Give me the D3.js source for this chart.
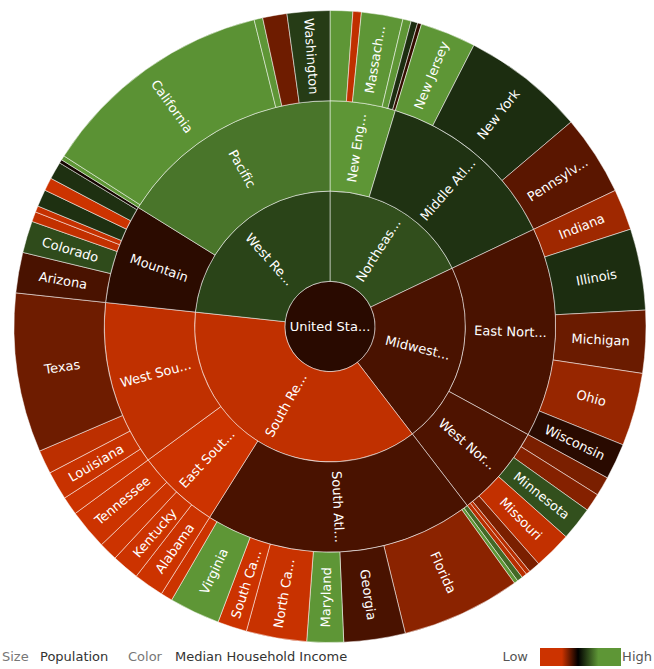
<!DOCTYPE html>
<html>
<head>
<meta charset="utf-8">
<script src="https://cdn.jsdelivr.net/npm/d3@7"></script>
<style>
  body { margin: 0; background: #fff; }
  svg { display: block; font-family: "DejaVu Sans", Verdana, sans-serif; }
  .lbl { font-size: 13px; fill: #fff; }
  .legend text { font-size: 13px; }
</style>
</head>
<body>
<svg id="chart" width="654" height="669"></svg>
<script>
// US population (thousands) by census region, division and state;
// colour is median household income in dollars.
const nationName = "United States";
const nationLabel = "United Sta...";
const nationIncome = 48000;

const regions = ["Northeast Region", "Midwest Region", "South Region", "West Region"];
const regionLabels = ["Northeas...", "Midwest...", "South Re...", "West Re..."];
const regionIncome = [55200, 46400, 40600, 54500];

const divisions = ["New England", "Middle Atlantic", "East North Central", "West North Central",
  "South Atlantic", "East South Central", "West South Central", "Mountain", "Pacific"];
const divisionLabels = ["New Eng...", "Middle Atl...", "East Nort...", "West Nor...",
  "South Atl...", "East Sout...", "West Sou...", "Mountain", "Pacific"];
const divisionRegion = [0, 0, 1, 1, 2, 2, 2, 3, 3];
const divisionIncome = [61000, 53300, 46400, 46200, 46400, 39800, 40600, 47900, 57800];

const states = [
  "Connecticut", "Maine", "Massachusetts", "New Hampshire", "Rhode Island", "Vermont",
  "New Jersey", "New York", "Pennsylvania",
  "Indiana", "Illinois", "Michigan", "Ohio", "Wisconsin",
  "Iowa", "Kansas", "Minnesota", "Missouri", "Nebraska", "North Dakota", "South Dakota",
  "Delaware", "District of Columbia", "Florida", "Georgia", "Maryland", "North Carolina",
  "South Carolina", "Virginia", "West Virginia",
  "Alabama", "Kentucky", "Mississippi", "Tennessee",
  "Arkansas", "Louisiana", "Oklahoma", "Texas",
  "Arizona", "Colorado", "Idaho", "Montana", "Nevada", "New Mexico", "Utah", "Wyoming",
  "Alaska", "California", "Hawaii", "Oregon", "Washington"
];
// long state names are shortened on the ring
const stateShort = {
  "Massachusetts": "Massach...",
  "Pennsylvania": "Pennsylv...",
  "North Carolina": "North Ca...",
  "South Carolina": "South Ca..."
};
const stateDivision = [
  0, 0, 0, 0, 0, 0,
  1, 1, 1,
  2, 2, 2, 2, 2,
  3, 3, 3, 3, 3, 3, 3,
  4, 4, 4, 4, 4, 4, 4, 4, 4,
  5, 5, 5, 5,
  6, 6, 6, 6,
  7, 7, 7, 7, 7, 7, 7, 7,
  8, 8, 8, 8, 8
];
const statePopulation = [
  3574, 1328, 6548, 1316, 1053, 626,
  8792, 19378, 12702,
  6484, 12831, 9884, 11537, 5687,
  3046, 2853, 5304, 5989, 1826, 673, 814,
  898, 602, 18801, 9688, 5774, 9535, 4625, 8001, 1853,
  4780, 4339, 2967, 6346,
  2916, 4533, 3751, 25146,
  6392, 5029, 1568, 989, 2701, 2059, 2764, 564,
  710, 37254, 1360, 3831, 6725
];
const stateIncome = [
  64000, 40600, 62000, 61000, 53000, 47500,
  63000, 53000, 45600,
  42200, 53000, 44800, 42600, 48000,
  44000, 43500, 55300, 40500, 44000, 41000, 41000,
  57000, 61000, 43200, 46400, 66000, 40200, 40000, 61000, 38500,
  39500, 39800, 36500, 40000,
  38000, 40200, 40800, 44600,
  46400, 55000, 40500, 40300, 53200, 40000, 53200, 49000,
  61000, 59700, 62000, 44600, 54000
];

const cx = 330, cy = 326.5, R = 316;

// nested tree: nation > regions > divisions > states
const tree = {
  name: nationName, label: nationLabel, income: nationIncome,
  children: regions.map((rn, ri) => ({
    name: rn, label: regionLabels[ri], income: regionIncome[ri],
    children: divisions.map((dn, di) => ({ dn, di }))
      .filter(o => divisionRegion[o.di] === ri)
      .map(o => ({
        name: o.dn, label: divisionLabels[o.di], income: divisionIncome[o.di],
        children: states.map((sn, si) => ({ sn, si }))
          .filter(s => stateDivision[s.si] === o.di)
          .map(s => ({
            name: s.sn, label: stateShort[s.sn] || s.sn,
            income: stateIncome[s.si], population: statePopulation[s.si]
          }))
      }))
  }))
};

const root = d3.hierarchy(tree).sum(d => d.population || 0);
d3.partition().size([2 * Math.PI, 4])(root);

const radius = d3.scaleLinear().domain([0, 1, 4]).range([0, R / 7, R]);
const color = d3.scaleLinear()
  .domain([40000, 50000, 60000])
  .range(["#cc3300", "#000000", "#5e9636"])
  .clamp(true);

const svg = d3.select("#chart");
const g = svg.append("g").attr("transform", `translate(${cx},${cy})`);

const arc = d3.arc()
  .startAngle(d => d.x0)
  .endAngle(d => d.x1)
  .innerRadius(d => radius(d.y0))
  .outerRadius(d => radius(d.y1));

const nodes = root.descendants();

g.selectAll("path")
  .data(nodes)
  .join("path")
  .attr("d", arc)
  .attr("fill", d => color(d.data.income))
  .attr("stroke", "rgba(255,255,255,0.5)")
  .attr("stroke-width", 1);

// only slices wide enough for a line of text get a label
const labelled = nodes.filter(d => d.depth === 0 || (d.x1 - d.x0) * radius(d.y0) >= 19);

g.selectAll("text.lbl")
  .data(labelled)
  .join("text")
  .attr("class", "lbl")
  .attr("text-anchor", "middle")
  .attr("dy", "0.36em")
  .attr("transform", d => {
    if (d.depth === 0) return null;
    const deg = (d.x0 + d.x1) / 2 * 180 / Math.PI;
    const rm = (radius(d.y0) + radius(d.y1)) / 2;
    return `rotate(${deg - 90}) translate(${rm},0) rotate(${deg < 180 ? 0 : 180})`;
  })
  .text(d => d.data.label);

// legend row
const leg = svg.append("g").attr("class", "legend");
const ly = 661;
leg.append("text").attr("x", 2).attr("y", ly).attr("fill", "#777").text("Size");
leg.append("text").attr("x", 40).attr("y", ly).attr("fill", "#333").text("Population");
leg.append("text").attr("x", 128).attr("y", ly).attr("fill", "#777").text("Color");
leg.append("text").attr("x", 175).attr("y", ly).attr("fill", "#333").text("Median Household Income");
leg.append("text").attr("x", 528).attr("y", ly).attr("text-anchor", "end").attr("fill", "#555").text("Low");
leg.append("text").attr("x", 652).attr("y", ly).attr("text-anchor", "end").attr("fill", "#555").text("High");

const grad = svg.append("defs").append("linearGradient").attr("id", "incomeGrad");
[[0, color.range()[0]], [0.27, color.range()[0]], [0.47, color.range()[1]],
 [0.72, color.range()[2]], [1, color.range()[2]]].forEach(([o, c]) =>
  grad.append("stop").attr("offset", o).attr("stop-color", c));
leg.append("rect").attr("x", 540).attr("y", 648).attr("width", 81).attr("height", 18)
  .attr("fill", "url(#incomeGrad)");
</script>
</body>
</html>
